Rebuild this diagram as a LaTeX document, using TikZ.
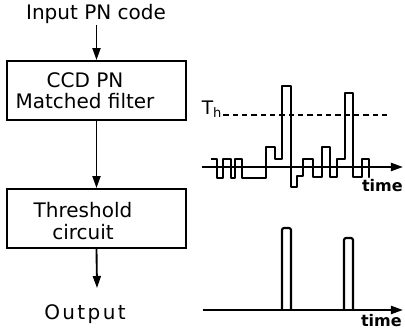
\documentclass[tikz,border=0pt]{standalone}
\usepackage{fontspec}
\setmainfont{DejaVu Sans}
\usetikzlibrary{arrows.meta}
\begin{document}
\begin{tikzpicture}[x=0.75pt,y=0.75pt,yscale=-1,xscale=1,
    box/.style={draw,line width=1.4,minimum width=134.25pt,minimum height=44.25pt,inner sep=0pt},
    lbl/.style={inner sep=0.75pt,font=\fontsize{15}{17}\selectfont,align=center},
    flow/.style={line width=1.4,-{Triangle[length=9pt,width=6pt]}},
    sig/.style={line width=1.6,line join=round},
    axis/.style={line width=1.6,-{Triangle[length=9pt,width=6pt]}},
    tlbl/.style={inner sep=0.75pt,font=\fontsize{12}{14}\selectfont\bfseries}]
    \useasboundingbox (0,0) rectangle (405,334);
    % block diagram
    \node [lbl] (inp) at (96,14) {Input PN code};
    \node [box] (mf) at (96.5,90.5) {};
    \node [lbl] (mft) at (85,90.5) {CCD PN\\[-1pt]Matched filter};
    \node [box] (thr) at (96.5,218.5) {};
    \node [lbl] (thrt) at (83,221) {Threshold\\[-1pt]circuit};
    \node [lbl,font=\fontsize{15}{17}\selectfont\addfontfeatures{LetterSpace=12}] (out) at (85,314) {Output};
    \coordinate (outend) at (97,288);
    \draw [flow] (inp.south -| mf.north) -- (mf.north);
    \draw [flow] (mf.south) -- (thr.north);
    \draw [flow] (thr.south) -- (outend);
    % filter output
    \coordinate (ax1) at (202,167);
    \coordinate (ax1end) at (403,167);
    \draw [axis] (ax1) -- (ax1end);
    \node [inner sep=0.75pt,font=\fontsize{14}{16}\selectfont] (th) at (212,109) {T\textsubscript{h}};
    \coordinate (thend) at (388,115);
    \draw [line width=1.1,dash pattern=on 4pt off 3pt] (th.east |- thend) -- (thend);
    \draw [sig] (211,159) -- (217,159) -- (217,178) -- (223,178) -- (223,159) -- (231,159) -- (231,178) -- (235,178) -- (235,159) -- (242,159) -- (242,178) -- (266,178) -- (266,147) -- (275,147) -- (275,159) -- (282,159) -- (282,86) -- (291,86) -- (291,187) -- (297,187) -- (297,176) -- (303,176) -- (303,159) -- (313,159) -- (313,177) -- (322,177) -- (322,147) -- (330,147) -- (330,177) -- (337,177) -- (337,159) -- (345,159) -- (345,93) -- (353,93) -- (353,177) -- (362,177) -- (362,159) -- (369,159) -- (369,177) -- (369,167);
    \node [tlbl,anchor=east] (t1) at (404,186) {time};
    % threshold output
    \coordinate (ax2) at (203,310);
    \coordinate (ax2end) at (403,310);
    \draw [axis] (ax2) -- (ax2end);
    \draw [sig,rounded corners=1.5pt] (282,310) -- (282,228) -- (291,228) -- (291,310);
    \draw [sig,rounded corners=1.5pt] (344,310) -- (344,238) -- (353,238) -- (353,310);
    \node [tlbl,anchor=east] (t2) at (403,321) {time};
\end{tikzpicture}
\end{document}
